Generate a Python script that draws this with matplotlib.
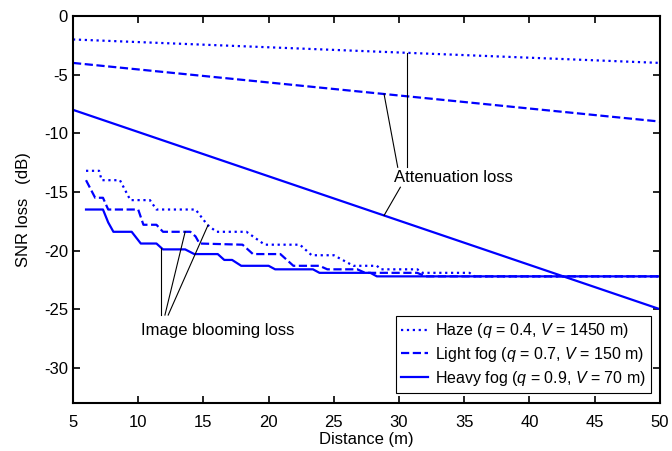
import numpy as np
import matplotlib
matplotlib.use("Agg")
import matplotlib.pyplot as plt

plt.rcParams["font.family"] = ["Liberation Sans", "DejaVu Sans"]
plt.rcParams["mathtext.fontset"] = "custom"
plt.rcParams["mathtext.it"] = "Liberation Sans:italic"
plt.rcParams["mathtext.rm"] = "Liberation Sans"
plt.rcParams["axes.unicode_minus"] = False

# Attenuation loss (linear in distance)
dist_att = np.array([5, 50])
haze_att = np.array([-2.0, -4.0])
light_att = np.array([-4.0, -9.0])
heavy_att = np.array([-8.0, -25.0])

# Image blooming loss (staircase)
haze_bx = [6, 7.0, 7.2, 8.6, 9.4, 10.9, 11.4, 14.4, 15.3, 16.0, 18.3, 19.7, 22.4,
           23.3, 25.0, 26.5, 28.3, 28.6, 31.4, 31.8, 35.4, 35.8, 50]
haze_by = [-13.2, -13.2, -14.0, -14.0, -15.7, -15.7, -16.5, -16.5, -17.8, -18.4, -18.4,
           -19.5, -19.5, -20.4, -20.4, -21.3, -21.3, -21.6, -21.6, -21.9, -21.9, -22.2, -22.2]

light_bx = [6, 6.7, 7.3, 7.7, 10.0, 10.4, 11.4, 11.9, 14.0, 14.4, 14.7, 18.0, 18.8,
            20.9, 21.9, 23.9, 24.5, 26.8, 27.4, 31.4, 32.0, 50]
light_by = [-14.0, -15.5, -15.5, -16.5, -16.5, -17.8, -17.8, -18.4, -18.4, -18.8, -19.4,
            -19.5, -20.3, -20.3, -21.3, -21.3, -21.6, -21.6, -21.9, -21.9, -22.2, -22.2]

heavy_bx = [6, 7.3, 7.7, 8.1, 9.5, 10.2, 11.4, 11.9, 13.6, 14.3, 16.1, 16.6, 17.2,
            17.9, 20.0, 20.5, 23.4, 23.9, 27.8, 28.3, 50]
heavy_by = [-16.5, -16.5, -17.6, -18.4, -18.4, -19.4, -19.4, -19.9, -19.9, -20.3, -20.3,
            -20.8, -20.8, -21.3, -21.3, -21.6, -21.6, -21.9, -21.9, -22.2, -22.2]

labels = [r"Haze ($q$ = 0.4, $V$ = 1450 m)",
          r"Light fog ($q$ = 0.7, $V$ = 150 m)",
          r"Heavy fog ($q$ = 0.9, $V$ = 70 m)"]

blue = "#0000ff"
lw = 1.6
fig = plt.figure(figsize=(6.72, 4.51), dpi=100)
ax = fig.add_axes([0.1086, 0.1064, 0.8734, 0.8581])

ax.plot(dist_att, haze_att, ":", color=blue, lw=lw, label=labels[0])
ax.plot(dist_att, light_att, "--", color=blue, lw=lw, label=labels[1])
ax.plot(dist_att, heavy_att, "-", color=blue, lw=lw, label=labels[2])
ax.plot(haze_bx, haze_by, ":", color=blue, lw=lw)
ax.plot(light_bx, light_by, "--", color=blue, lw=lw)
ax.plot(heavy_bx, heavy_by, "-", color=blue, lw=lw)

# annotation for attenuation loss
lk = dict(color="black", lw=0.8)
ax.plot([30.6, 30.6], [-12.9, np.interp(30.6, dist_att, haze_att)], **lk)
ax.plot([29.9, 28.85], [-12.9, np.interp(28.85, dist_att, light_att)], **lk)
ax.plot([30.1, 28.85], [-14.6, np.interp(28.85, dist_att, heavy_att)], **lk)
ax.text(29.6, -13.75, "Attenuation loss", fontsize=12, ha="left", va="center")

# annotation for image blooming loss
ax.plot([11.75, 11.75], [-25.5, np.interp(11.75, heavy_bx, heavy_by)], **lk)
ax.plot([12.05, 13.6], [-25.5, np.interp(13.6, light_bx, light_by)], **lk)
ax.plot([12.3, 15.35], [-25.5, np.interp(15.35, haze_bx, haze_by)], **lk)
ax.text(16.1, -26.8, "Image blooming loss", fontsize=12, ha="center", va="center")

ax.set_xlim(5, 50)
ax.set_ylim(-33, 0)
ax.set_xticks(np.arange(5, 51, 5))
ax.set_yticks(np.arange(-30, 1, 5))
ax.tick_params(direction="in", top=True, right=True, labelsize=12, width=1.2, length=5)
ax.tick_params(axis="x", pad=8.5)
for s in ax.spines.values():
    s.set_linewidth(1.5)
ax.set_xlabel("Distance (m)", fontsize=12, labelpad=1.5)
ax.set_ylabel("SNR loss   (dB)", fontsize=12, labelpad=9)

leg = ax.legend(loc="lower right", bbox_to_anchor=(0.985, 0.027), fontsize=11.5,
                fancybox=False, framealpha=1, edgecolor="black",
                handlelength=1.7, borderpad=0.3, labelspacing=0.3, handletextpad=0.45,
                borderaxespad=0)
leg.get_frame().set_linewidth(0.8)

fig.savefig("out.png", dpi=100)
